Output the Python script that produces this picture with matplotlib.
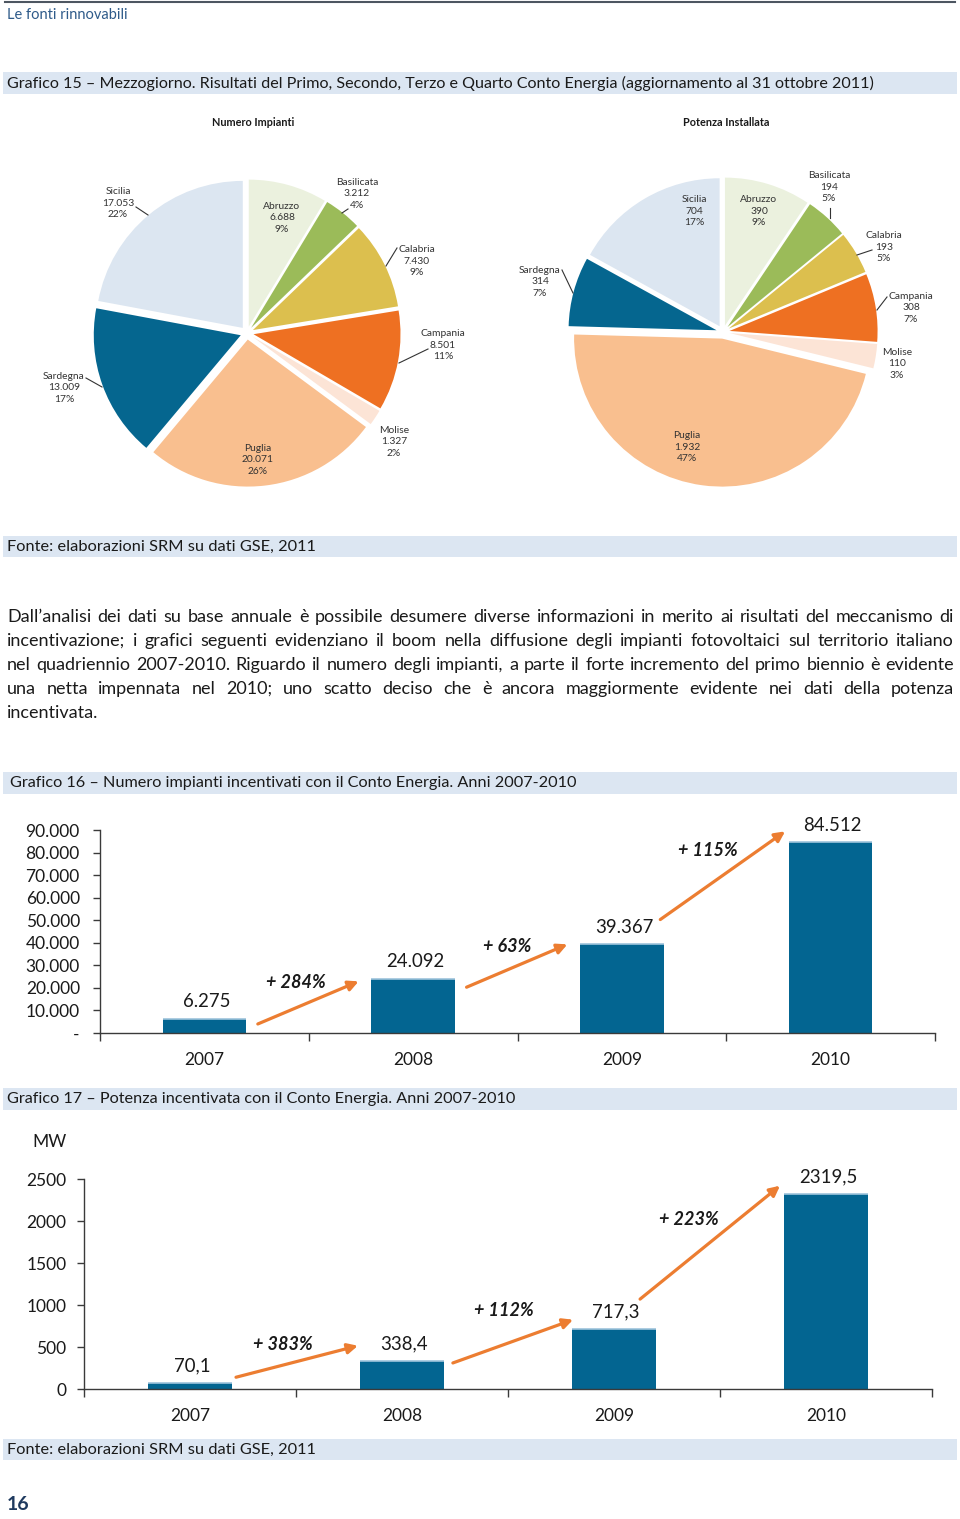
import matplotlib
matplotlib.use("Agg")
import matplotlib.pyplot as plt
from matplotlib.patches import Rectangle
import numpy as np

plt.rcParams['font.family'] = ['Lato', 'DejaVu Sans']

# ---------------- data ----------------
regions = ["Abruzzo", "Basilicata", "Calabria", "Campania", "Molise", "Puglia", "Sardegna", "Sicilia"]
impianti = [6688, 3212, 7430, 8501, 1327, 20071, 13009, 17053]
impianti_pct = ["9%", "4%", "9%", "11%", "2%", "26%", "17%", "22%"]
potenza = [390, 194, 193, 308, 110, 1932, 314, 704]
potenza_pct = ["9%", "5%", "5%", "7%", "3%", "47%", "7%", "17%"]

years = ["2007", "2008", "2009", "2010"]
num_impianti = [6275, 24092, 39367, 84512]
growth_num = ["+ 284%", "+ 63%", "+ 115%"]
pot_incentivata = [70.1, 338.4, 717.3, 2319.5]
growth_pot = ["+ 383%", "+ 112%", "+ 223%"]
yticks_num = [0, 10000, 20000, 30000, 40000, 50000, 60000, 70000, 80000, 90000]
yticks_pot = [0, 500, 1000, 1500, 2000, 2500]

paragraph = [
    "Dall\u2019analisi dei dati su base annuale è possibile desumere diverse informazioni in merito ai risultati del meccanismo di",
    "incentivazione; i grafici seguenti evidenziano il boom nella diffusione degli impianti fotovoltaici sul territorio italiano",
    "nel quadriennio 2007-2010. Riguardo il numero degli impianti, a parte il forte incremento del primo biennio è evidente",
    "una netta impennata nel 2010; uno scatto deciso che è ancora maggiormente evidente nei dati della potenza",
    "incentivata.",
]

# ---------------- styles ----------------
W, H = 960, 1519
pie_colors = ["#ebf1de", "#9bbb59", "#dcbf4e", "#ee7022", "#fce4d6", "#f9bf8f", "#05668f", "#dce6f1"]
band_color = "#dce6f2"
bar_color = "#036591"
arrow_color = "#ec7d31"
txt = "#1a1a1a"

fig = plt.figure(figsize=(W / 100, H / 100), dpi=100)
page = fig.add_axes([0, 0, 1, 1])
page.set_xlim(0, W)
page.set_ylim(H, 0)
page.axis("off")


def px_axes(left, top, right, bottom, **kw):
    return fig.add_axes([left / W, 1 - bottom / H, (right - left) / W, (bottom - top) / H], **kw)


def band(y0, y1, text, fs=11.7, x=7):
    page.add_patch(Rectangle((3, y0), 954, y1 - y0, color=band_color, lw=0))
    page.text(x, (y0 + y1) / 2 + 0.5, text, fontsize=fs, color=txt, va="center", ha="left")


# header
page.plot([5, 955], [2, 2], color="#4d5661", lw=1.5)
page.text(7, 15, "Le fonti rinnovabili", fontsize=10.5, color="#2f5b8a", va="center")

band(72, 94, "Grafico 15 \u2013 Mezzogiorno. Risultati del Primo, Secondo, Terzo e Quarto Conto Energia (aggiornamento al 31 ottobre 2011)", fs=11.65)
page.text(253, 122, "Numero Impianti", fontsize=7.8, fontweight="bold", color=txt, ha="center", va="center")
page.text(726, 122, "Potenza Installata", fontsize=7.8, fontweight="bold", color=txt, ha="center", va="center")

# ---------------- pies ----------------
overlay = fig.add_axes([0, 0, 1, 1], zorder=10)
overlay.set_xlim(0, W)
overlay.set_ylim(H, 0)
overlay.axis("off")
overlay.patch.set_alpha(0)


def fmt_it(v):
    return f"{v:,}".replace(",", ".")


def draw_pie(cx, cy, R, values, pcts, label_pos, leaders):
    half = 175
    ax = px_axes(cx - half, cy - half, cx + half, cy + half)
    ax.pie(values, colors=pie_colors, startangle=90, counterclock=False,
           explode=[0.045] * len(values), radius=1,
           wedgeprops=dict(linewidth=0))
    ax.set_xlim(-half / R, half / R)
    ax.set_ylim(-half / R, half / R)
    ax.set_aspect("equal")
    ax.axis("off")
    for name, v, p, (lx, ly) in zip(regions, values, pcts, label_pos):
        overlay.text(lx, ly, f"{name}\n{fmt_it(v)}\n{p}", fontsize=7.4, color="#333333",
                     ha="center", va="center", linespacing=1.38)
    for (x0, y0, x1, y1) in leaders:
        overlay.plot([x0, x1], [y0, y1], color="#333333", lw=0.8)


left_labels = [(282, 218), (357, 194), (417, 261), (443, 345), (394, 442), (258, 460), (64, 388), (118, 203)]
left_leaders = [(136, 207, 148, 215), (342, 213, 348, 209), (397, 248, 386, 266),
                (428, 349, 399, 363), (86, 378, 102, 387)]
draw_pie(247, 333, 147, impianti, impianti_pct, left_labels, left_leaders)

right_labels = [(759, 211), (829, 187), (884, 247), (911, 308), (897, 364), (687, 447), (540, 282), (694, 211)]
right_leaders = [(830, 208, 830, 218), (872, 250, 857, 255), (887, 297, 877, 310), (562, 270, 573, 293)]
draw_pie(723, 332, 148, potenza, potenza_pct, right_labels, right_leaders)

band(536, 557, "Fonte: elaborazioni SRM su dati GSE, 2011", fs=11.8)

# ---------------- justified paragraph ----------------
renderer = fig.canvas.get_renderer()
par_fs = 13.0
left_x, right_x = 7, 954
for i, line in enumerate(paragraph):
    y = 617 + 24 * i
    words = line.split(" ")
    if i == len(paragraph) - 1:
        page.text(left_x, y, line, fontsize=par_fs, color=txt, va="center", ha="left")
        continue
    arts = [page.text(0, y, w, fontsize=par_fs, color=txt, va="center", ha="left") for w in words]
    widths = [a.get_window_extent(renderer).width for a in arts]
    gap = (right_x - left_x - sum(widths)) / (len(words) - 1)
    x = left_x
    for a, wd in zip(arts, widths):
        a.set_x(x)
        x += wd + gap

# ---------------- bar chart helper ----------------


def bar_chart(ax, values, labels, growth, arrows, glabels, ymax, yticks, ytick_fmt, ypad):
    xs = np.arange(len(values))
    ax.bar(xs, values, width=0.4, color=bar_color, zorder=2)
    ax.hlines(values, xs - 0.2, xs + 0.2, color="#9ec4dc", lw=1.2, zorder=3)
    ax.set_xlim(-0.5, len(values) - 0.5)
    ax.set_ylim(0, ymax)
    for s in ["top", "right"]:
        ax.spines[s].set_visible(False)
    for s in ["left", "bottom"]:
        ax.spines[s].set_color("#3a3a3a")
        ax.spines[s].set_linewidth(1.0)
    ax.set_yticks(yticks)
    ax.set_yticklabels([ytick_fmt(t) for t in yticks])
    ax.tick_params(axis="y", length=5, width=1, color="#3a3a3a", labelsize=12.5, labelcolor=txt, pad=ypad)
    ax.set_xticks(xs)
    ax.set_xticklabels(years)
    ax.tick_params(axis="x", length=0, labelsize=12.5, labelcolor=txt, pad=13.5)
    ax.set_xticks(np.arange(len(values) + 1) - 0.5, minor=True)
    ax.tick_params(axis="x", which="minor", length=6, width=1, color="#3a3a3a")
    ax.patch.set_alpha(0)
    for x, v, lab in zip(xs, values, labels):
        ax.annotate(lab, (x, v), xytext=(2, 17), textcoords="offset pixels",
                    ha="center", va="center", fontsize=13.4, color=txt)
    for (x0, y0, x1, y1) in arrows:
        ax.annotate("", xy=(x1, y1), xytext=(x0, y0),
                    arrowprops=dict(arrowstyle="-|>,head_length=0.6,head_width=0.3",
                                    color=arrow_color, lw=2.3, shrinkA=0, shrinkB=0))
    for (gx, gy), g in zip(glabels, growth):
        ax.text(gx, gy, g, fontsize=13, fontweight="bold", fontstyle="italic",
                color=txt, ha="center", va="center")


band(772, 794, "Grafico 16 \u2013 Numero impianti incentivati con il Conto Energia. Anni 2007-2010", x=10)
ax1 = px_axes(100, 830, 935, 1033)
bar_chart(ax1, num_impianti, [fmt_it(v) for v in num_impianti], growth_num,
          arrows=[(0.256, 4000, 0.739, 22900), (1.256, 20300, 1.739, 39300), (2.184, 50300, 2.782, 89400)],
          glabels=[(0.44, 22500), (1.45, 38500), (2.41, 80700)],
          ymax=90000, yticks=yticks_num,
          ytick_fmt=lambda t: "-" if t == 0 else fmt_it(int(t)), ypad=9.5)

band(1088, 1110, "Grafico 17 \u2013 Potenza incentivata con il Conto Energia. Anni 2007-2010")
page.text(50, 1142, "MW", fontsize=12.5, color=txt, ha="center", va="center")
ax2 = px_axes(84, 1179, 932, 1389)
bar_chart(ax2, pot_incentivata, [f"{v:.1f}".replace(".", ",") for v in pot_incentivata], growth_pot,
          arrows=[(0.217, 140, 0.792, 515), (1.24, 310, 1.807, 825), (2.123, 1070, 2.783, 2420)],
          glabels=[(0.44, 524), (1.48, 930), (2.354, 2015)],
          ymax=2500, yticks=yticks_pot,
          ytick_fmt=lambda t: f"{int(t)}", ypad=7.5)

band(1439, 1460, "Fonte: elaborazioni SRM su dati GSE, 2011", fs=11.8)
page.text(7, 1505, "16", fontsize=14, fontweight="bold", color="#1f3a5f", va="center", ha="left")

fig.savefig("out.png", dpi=100)
